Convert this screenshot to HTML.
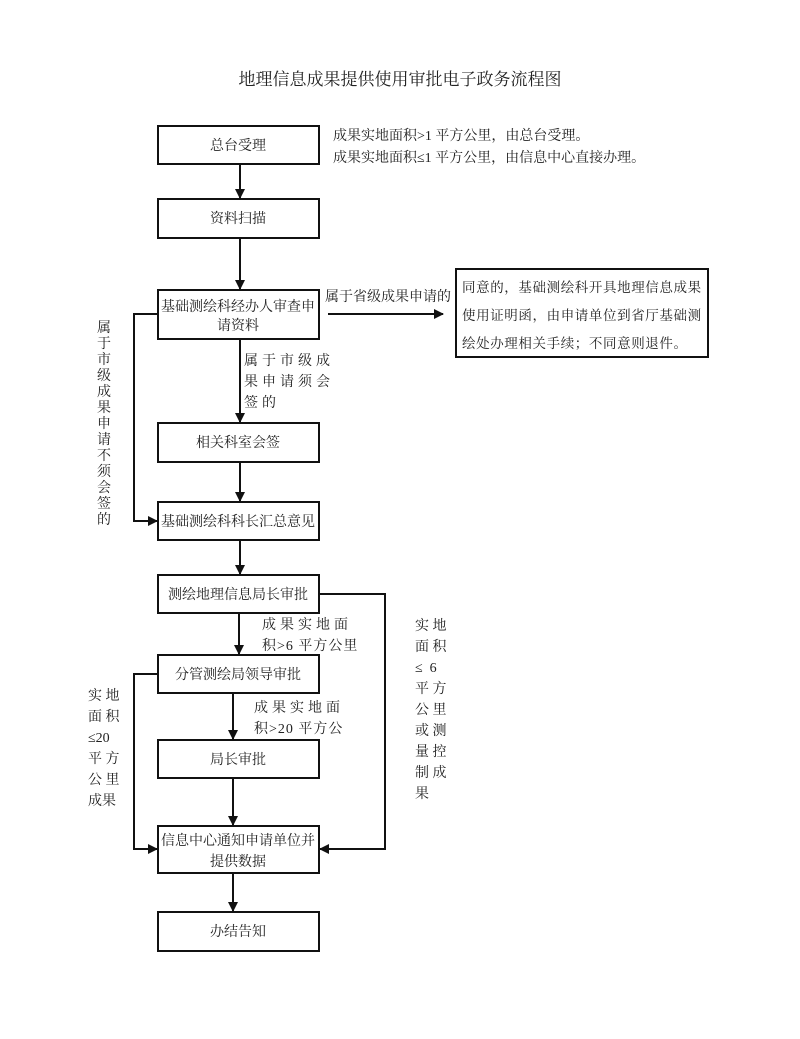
<!DOCTYPE html>
<html><head><meta charset="utf-8"><style>
body{margin:0;background:#fff}
svg text{font-family:"Liberation Serif","Noto Serif CJK SC","Noto Sans CJK SC",serif;fill:#222}
</style></head><body>
<svg width="800" height="1034" viewBox="0 0 800 1034" xmlns="http://www.w3.org/2000/svg">
<defs><marker id="a" markerWidth="10" markerHeight="10" refX="9" refY="5" orient="auto" markerUnits="userSpaceOnUse"><path d="M0,0 L10,5 L0,10 z" fill="#111"/></marker></defs>
<rect width="800" height="1034" fill="#fff"/>
<text x="400" y="85" font-size="17" text-anchor="middle">地理信息成果提供使用审批电子政务流程图</text>
<text x="333" y="140" font-size="14">成果实地面积&gt;1 平方公里，由总台受理。</text>
<text x="333" y="162" font-size="14">成果实地面积≤1 平方公里，由信息中心直接办理。</text>
<g fill="none" stroke="#111" stroke-width="2">
<rect x="158" y="126" width="161" height="38"/>
<rect x="158" y="199" width="161" height="39"/>
<rect x="158" y="290" width="161" height="49"/>
<rect x="158" y="423" width="161" height="39"/>
<rect x="158" y="502" width="161" height="38"/>
<rect x="158" y="575" width="161" height="38"/>
<rect x="158" y="655" width="161" height="38"/>
<rect x="158" y="740" width="161" height="38"/>
<rect x="158" y="826" width="161" height="47"/>
<rect x="158" y="912" width="161" height="39"/>
<rect x="456" y="269" width="252" height="88"/>
</g>
<g stroke="#111" stroke-width="2" fill="none" marker-end="url(#a)">
<line x1="240" y1="164" x2="240" y2="198"/>
<line x1="240" y1="238" x2="240" y2="289"/>
<line x1="240" y1="339" x2="240" y2="422"/>
<line x1="240" y1="462" x2="240" y2="501"/>
<line x1="240" y1="540" x2="240" y2="574"/>
<line x1="239" y1="613" x2="239" y2="654"/>
<line x1="233" y1="693" x2="233" y2="739"/>
<line x1="233" y1="778" x2="233" y2="825"/>
<line x1="233" y1="873" x2="233" y2="911"/>
<line x1="328" y1="314" x2="443" y2="314"/>
<polyline points="158,314 134,314 134,521 157,521"/>
<polyline points="158,674 134,674 134,849 157,849"/>
<polyline points="319,594 385,594 385,849 320,849"/>
</g>
<g font-size="14" text-anchor="middle">
<text x="238" y="150">总台受理</text>
<text x="238" y="223">资料扫描</text>
<text x="238" y="311">基础测绘科经办人审查申</text>
<text x="238" y="330">请资料</text>
<text x="238" y="447">相关科室会签</text>
<text x="238" y="526">基础测绘科科长汇总意见</text>
<text x="238" y="599">测绘地理信息局长审批</text>
<text x="238" y="679">分管测绘局领导审批</text>
<text x="238" y="764">局长审批</text>
<text x="238" y="845">信息中心通知申请单位并</text>
<text x="238" y="866">提供数据</text>
<text x="238" y="936">办结告知</text>
</g>
<g font-size="13.5" letter-spacing="0.6">
<text x="462" y="292">同意的，基础测绘科开具地理信息成果</text>
<text x="462" y="320">使用证明函，由申请单位到省厅基础测</text>
<text x="462" y="348">绘处办理相关手续；不同意则退件。</text>
</g>
<text x="325" y="301" font-size="14">属于省级成果申请的</text>
<g font-size="14" letter-spacing="4">
<text x="244" y="365">属于市级成</text>
<text x="244" y="386">果申请须会</text>
<text x="244" y="407">签的</text>
<text x="262" y="629">成果实地面</text>
<text x="254" y="712">成果实地面</text>
</g>
<g font-size="14" letter-spacing="1">
<text x="262" y="650">积&gt;6 平方公里</text>
<text x="254" y="733">积&gt;20 平方公</text>
</g>
<g font-size="14" text-anchor="middle">
<text x="104" y="332">属</text><text x="104" y="348">于</text><text x="104" y="364">市</text><text x="104" y="380">级</text><text x="104" y="396">成</text><text x="104" y="412">果</text><text x="104" y="428">申</text><text x="104" y="444">请</text><text x="104" y="460">不</text><text x="104" y="476">须</text><text x="104" y="492">会</text><text x="104" y="508">签</text><text x="104" y="524">的</text>
</g>
<g font-size="14">
<text x="88" y="700">实 地</text>
<text x="88" y="721">面 积</text>
<text x="88" y="742">≤20</text>
<text x="88" y="763">平 方</text>
<text x="88" y="784">公 里</text>
<text x="88" y="805">成果</text>
<text x="415" y="630">实 地</text>
<text x="415" y="651">面 积</text>
<text x="415" y="672">≤ &#160;6</text>
<text x="415" y="693">平 方</text>
<text x="415" y="714">公 里</text>
<text x="415" y="735">或 测</text>
<text x="415" y="756">量 控</text>
<text x="415" y="777">制 成</text>
<text x="415" y="798">果</text>
</g>
</svg>
</body></html>
